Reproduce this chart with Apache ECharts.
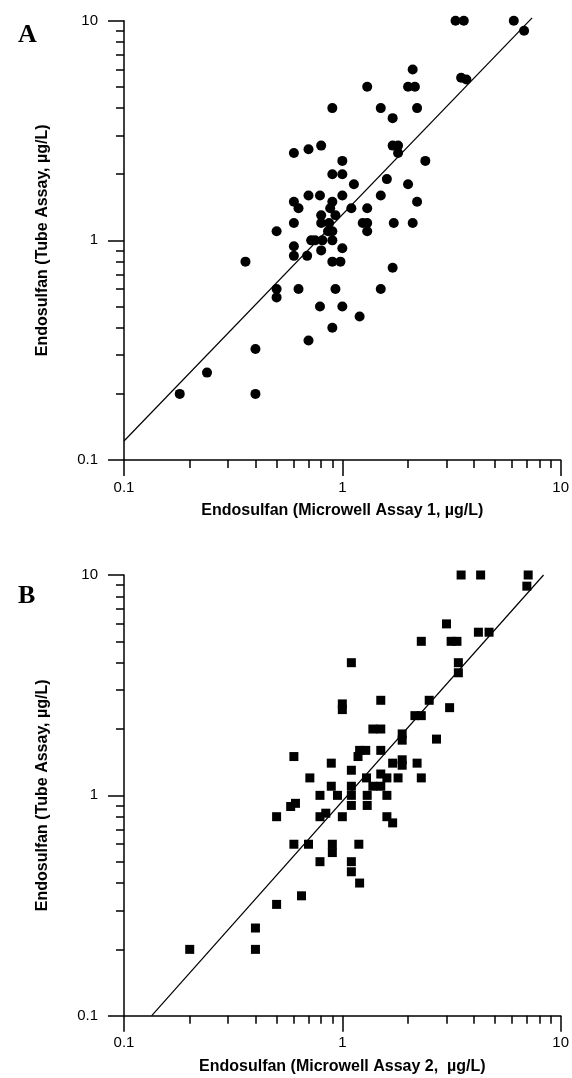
<!DOCTYPE html>
<html>
<head>
<meta charset="utf-8">
<script src="https://cdn.jsdelivr.net/npm/echarts@6/dist/echarts.min.js"></script>
<style>
html,body{margin:0;padding:0;background:#fff;}
#chart{width:572px;height:1078px;}
</style>
</head>
<body>
<div id="chart"></div>
<script>
// ---- data ----
const majorTicks = [0.1, 1, 10];
const minorTicks = [0.2,0.3,0.4,0.5,0.6,0.7,0.8,0.9,2,3,4,5,6,7,8,9];

const panelLabels = ['A', 'B'];
const xTitles = ['Endosulfan (Microwell Assay 1, \u00b5g/L)', 'Endosulfan (Microwell Assay 2,  \u00b5g/L)'];
const yTitle = 'Endosulfan (Tube Assay, \u00b5g/L)';

// Panel A: Microwell Assay 1 (x) vs Tube Assay (y)
const pointsA = [
  [3.3,10],[3.6,10],[6.1,10],[6.8,9],[2.1,6],[1.3,5],[2.0,5],[2.15,5],[3.5,5.5],[3.7,5.4],
  [0.9,4],[1.5,4],[2.2,4],[1.7,3.6],[0.6,2.5],[0.7,2.6],[0.8,2.7],[1.7,2.7],[1.8,2.7],[1.8,2.5],
  [2.4,2.3],[1.0,2.3],[0.9,2],[1.0,2],[1.13,1.8],[1.6,1.9],[2.0,1.8],[0.6,1.5],[0.7,1.6],[0.79,1.6],
  [1.0,1.6],[1.5,1.6],[2.2,1.5],[0.9,1.5],[0.63,1.4],[0.88,1.4],[1.1,1.4],[1.3,1.4],[0.8,1.3],[0.93,1.3],
  [0.6,1.2],[0.8,1.2],[0.87,1.2],[1.24,1.2],[1.3,1.2],[1.72,1.2],[2.1,1.2],[0.5,1.1],[0.86,1.1],[0.9,1.1],
  [1.3,1.1],[0.72,1.0],[0.75,1.0],[0.81,1.0],[0.9,1.0],[0.6,0.94],[0.8,0.9],[1.0,0.92],[0.6,0.85],[0.69,0.85],
  [0.36,0.8],[0.9,0.8],[0.98,0.8],[1.7,0.75],[0.5,0.6],[0.5,0.55],[0.63,0.6],[0.93,0.6],[1.5,0.6],[0.79,0.5],
  [1.0,0.5],[1.2,0.45],[0.9,0.4],[0.7,0.35],[0.4,0.32],[0.24,0.25],[0.18,0.2],[0.4,0.2]
];
const lineA = [[0.1,0.122],[7.4,10.3]];

// Panel B: Microwell Assay 2 (x) vs Tube Assay (y)
const pointsB = [
  [3.5,10],[4.3,10],[7.1,10],[7.0,8.9],[3.0,6.0],[4.2,5.5],[4.7,5.5],[2.3,5],[3.15,5],[3.35,5],
  [1.1,4],[3.4,4],[3.4,3.6],[1.0,2.6],[1.0,2.45],[1.5,2.7],[2.5,2.7],[3.1,2.5],[2.15,2.3],[2.3,2.3],
  [1.38,2],[1.5,2],[1.88,1.9],[1.88,1.78],[2.7,1.8],[0.6,1.5],[1.2,1.6],[1.28,1.6],[1.18,1.5],[1.5,1.6],
  [0.89,1.4],[1.7,1.4],[1.88,1.45],[1.88,1.37],[2.2,1.4],[1.1,1.3],[0.71,1.2],[1.29,1.2],[1.5,1.25],[1.6,1.2],
  [1.8,1.2],[2.3,1.2],[0.89,1.1],[1.1,1.1],[1.38,1.1],[1.5,1.1],[0.79,1],[0.95,1],[1.1,1],[1.3,1],
  [1.6,1],[1.1,0.9],[1.3,0.9],[0.58,0.89],[0.61,0.92],[0.5,0.8],[0.79,0.8],[0.84,0.83],[1.0,0.8],[1.6,0.8],
  [1.7,0.75],[0.6,0.6],[0.7,0.6],[0.9,0.6],[0.9,0.55],[1.19,0.6],[0.79,0.5],[1.1,0.5],[1.1,0.45],[1.2,0.4],
  [0.65,0.35],[0.5,0.32],[0.4,0.25],[0.4,0.2],[0.2,0.2]
];
const lineB = [[0.134,0.1],[8.35,10]];

// ---- chart ----
const chart = echarts.init(document.getElementById('chart'), null, {renderer:'canvas'});
const FONT = 'Liberation Sans, Arial, sans-serif';
const fmt = v => String(+(+v).toPrecision(3));

const grids = [
  {left:124, right:10.3, top:20.7, height:439.3},
  {left:124, right:10.3, top:575, height:440.7}
];

function mainAxis(gi, isX) {
  const a = {
    type:'log', logBase:10, min:0.1, max:10, gridIndex:gi,
    axisLine:{show:true, onZero:false, lineStyle:{color:'#000', width:1.5}},
    axisTick:{show:true, inside:false, length:16, customValues:majorTicks, lineStyle:{color:'#000', width:1.5}},
    axisLabel:{show:true, customValues:majorTicks, formatter:fmt, color:'#000', fontFamily:FONT, fontSize:15, margin: isX ? 20 : 26},
    splitLine:{show:false}, minorTick:{show:false}, minorSplitLine:{show:false},
    nameLocation:'middle',
    nameTextStyle:{fontFamily:FONT, fontWeight:'bold', fontSize:16, color:'#000'}
  };
  if (isX) { a.position='bottom'; a.name = xTitles[gi]; a.nameGap = 43; }
  else { a.position='left'; a.name = yTitle; a.nameGap = 73; }
  return a;
}
function minorAxis(gi, isX) {
  return {
    type:'log', logBase:10, min:0.1, max:10, gridIndex:gi,
    position: isX ? 'bottom' : 'left',
    axisLine:{show:false, onZero:false},
    axisTick:{show:true, inside:false, length:8, customValues:minorTicks, lineStyle:{color:'#000', width:1.5}},
    axisLabel:{show:false},
    splitLine:{show:false}
  };
}

const option = {
  backgroundColor:'#fff',
  animation:false,
  title: panelLabels.map((t,i) => ({
    text:t, left:13, top: i===0 ? 17 : 578,
    textStyle:{fontFamily:'Liberation Serif, Times New Roman, serif', fontWeight:'bold', fontSize:26, color:'#000'}
  })),
  grid: grids,
  xAxis: [mainAxis(0,true), minorAxis(0,true), mainAxis(1,true), minorAxis(1,true)],
  yAxis: [mainAxis(0,false), minorAxis(0,false), mainAxis(1,false), minorAxis(1,false)],
  series: [
    {type:'scatter', xAxisIndex:0, yAxisIndex:0, data:pointsA, symbol:'circle', symbolSize:10, itemStyle:{color:'#000', opacity:1}},
    {type:'line', xAxisIndex:0, yAxisIndex:0, data:lineA, symbol:'none', clip:false, lineStyle:{color:'#000', width:1.2}},
    {type:'scatter', xAxisIndex:2, yAxisIndex:2, data:pointsB, symbol:'rect', symbolSize:9, itemStyle:{color:'#000', opacity:1}},
    {type:'line', xAxisIndex:2, yAxisIndex:2, data:lineB, symbol:'none', clip:false, lineStyle:{color:'#000', width:1.2}}
  ]
};
chart.setOption(option);
</script>
</body>
</html>
